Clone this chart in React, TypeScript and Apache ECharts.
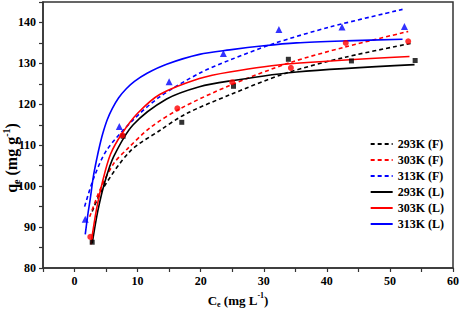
import React, { useEffect, useRef } from 'react';
import * as echarts from 'echarts';

const FONT = '"Liberation Serif", "Times New Roman", serif';

// Experimental points
const pts293 = [[2.8, 86.3], [7.7, 112.2], [17.0, 115.6], [25.2, 124.4], [33.9, 131.0], [43.9, 130.6], [54.0, 130.7]];
const pts303 = [[2.5, 87.6], [7.6, 112.4], [16.3, 119.0], [25.0, 125.4], [34.3, 128.9], [43.0, 135.0], [52.9, 135.4]];
const pts313 = [[1.7, 91.9], [7.1, 114.6], [15.0, 125.5], [23.6, 132.4], [32.4, 138.3], [42.4, 138.9], [52.3, 139.0]];

// Freundlich fit curves
const f293 = [[2.8, 93.8], [4.4, 99.2], [8.8, 108.5], [13.5, 113.6], [17.7, 117.7], [24.6, 122.3], [33.5, 127.6], [42.9, 131.5], [53.7, 135.0]];
const f303 = [[2.4, 92.5], [4.0, 99.0], [6.2, 105.5], [8.3, 109.0], [12.0, 114.3], [16.7, 118.9], [24.6, 124.6], [34.2, 130.2], [42.9, 134.0], [52.9, 137.8]];
const f313 = [[1.6, 95.0], [3.0, 101.8], [5.1, 108.8], [9.3, 116.2], [13.5, 121.8], [19.8, 127.6], [24.6, 130.8], [31.5, 134.8], [40.5, 138.9], [52.0, 143.2]];

// Langmuir fit curves
const l293 = [[2.8, 86.0], [3.7, 94.0], [4.8, 101.0], [6.2, 107.2], [9.3, 115.0], [14.6, 121.3], [19.8, 124.3], [24.6, 125.7], [35.2, 127.9], [53.9, 129.7]];
const l303 = [[2.6, 85.8], [3.5, 94.5], [4.5, 101.5], [5.7, 107.8], [7.5, 112.8], [10.0, 117.8], [13.5, 122.4], [19.8, 126.3], [24.6, 127.9], [34.2, 129.9], [53.1, 131.7]];
const l313 = [[1.7, 88.2], [2.1, 93.0], [2.5, 97.0], [3.0, 102.5], [3.5, 106.5], [4.0, 110.0], [4.5, 113.0], [5.2, 116.3], [6.0, 119.0], [7.0, 121.6], [8.2, 123.8], [9.5, 125.6], [11.5, 127.6], [14.6, 129.8], [19.8, 132.2], [24.6, 133.3], [30.0, 134.3], [35.2, 135.0], [43.0, 135.5], [52.0, 135.9]];

const legendNames = ['293K (F)', '303K (F)', '313K (F)', '293K (L)', '303K (L)', '313K (L)'];
const BLACK = '#000000';
const RED = '#ff0000';
const BLUE = '#0000ff';

export default function App() {
  const ref = useRef<HTMLDivElement>(null);
  useEffect(() => {
    if (!ref.current) return;
    const chart = echarts.init(ref.current, undefined, { renderer: 'svg' });
    const lineS = (name: string, data: number[][], color: string, dashed: boolean) => ({
      name,
      type: 'line',
      data,
      smooth: 0.3,
      symbol: 'none',
      showSymbol: false,
      lineStyle: { color, width: 1.6, type: dashed ? [4, 3] : 'solid' },
      itemStyle: { color },
      z: 2,
    });
    const scat = (data: number[][], color: string, symbol: string, size: number) => ({
      type: 'scatter',
      data,
      symbol,
      symbolSize: size,
      itemStyle: { color },
      z: 5,
    });
    const axisCommon = {
      axisLine: { show: true, onZero: false, lineStyle: { color: '#333', width: 1.5 } },
      axisTick: { show: true, inside: false, length: 4, lineStyle: { color: '#333', width: 1.2 } },
      splitLine: { show: false },
      axisLabel: {
        color: '#000',
        fontFamily: FONT,
        fontWeight: 'bold',
        fontSize: 12,
        margin: 7,
        formatter: (v: number) => (v % 10 === 0 ? String(v) : ''),
      },
    };
    chart.setOption({
      animation: false,
      grid: { left: 43, right: 7, top: 2, bottom: 44, show: true, borderColor: '#333', borderWidth: 1.5, containLabel: false },
      xAxis: { type: 'value', min: -5, max: 60, interval: 5, ...axisCommon },
      yAxis: { type: 'value', min: 80, max: 145, interval: 5, ...axisCommon },
      legend: {
        data: legendNames,
        orient: 'vertical',
        right: 13,
        top: 133,
        itemWidth: 22,
        itemHeight: 10,
        itemGap: 4,
        itemStyle: { opacity: 0 },
        textStyle: { color: '#000', fontFamily: FONT, fontWeight: 'bold', fontSize: 12 },
      },
      series: [
        lineS('293K (F)', f293, BLACK, true),
        lineS('303K (F)', f303, RED, true),
        lineS('313K (F)', f313, BLUE, true),
        lineS('293K (L)', l293, BLACK, false),
        lineS('303K (L)', l303, RED, false),
        lineS('313K (L)', l313, BLUE, false),
        scat(pts293, BLACK, 'rect', 5),
        scat(pts303, RED, 'circle', 6),
        scat(pts313, BLUE, 'triangle', 7),
      ],
      graphic: [
        {
          type: 'text',
          x: 11,
          y: 158,
          rotation: Math.PI / 2,
          style: {
            text: '{a|q}{s|e}{a| (mg g}{p|-1}{a|)}',
            align: 'center',
            verticalAlign: 'middle',
            fill: '#000',
            rich: {
              a: { fontFamily: FONT, fontWeight: 'bold', fontSize: 16, lineHeight: 20, verticalAlign: 'middle', fill: '#000' },
              s: { fontFamily: FONT, fontWeight: 'bold', fontSize: 10, lineHeight: 10, verticalAlign: 'bottom', fill: '#000' },
              p: { fontFamily: FONT, fontWeight: 'bold', fontSize: 10, lineHeight: 10, verticalAlign: 'top', fill: '#000' },
            },
          },
        },
        {
          type: 'text',
          x: 238,
          y: 300,
          style: {
            text: '{a|C}{s|e}{a| (mg L}{p|-1}{a|)}',
            align: 'center',
            verticalAlign: 'middle',
            fill: '#000',
            rich: {
              a: { fontFamily: FONT, fontWeight: 'bold', fontSize: 13, lineHeight: 17, verticalAlign: 'middle', fill: '#000' },
              s: { fontFamily: FONT, fontWeight: 'bold', fontSize: 8, lineHeight: 8, verticalAlign: 'bottom', fill: '#000' },
              p: { fontFamily: FONT, fontWeight: 'bold', fontSize: 8, lineHeight: 8, verticalAlign: 'top', fill: '#000' },
            },
          },
        },
      ],
    });
    return () => chart.dispose();
  }, []);
  return <div ref={ref} style={{ position: 'fixed', left: 0, top: 0, width: 462, height: 312, background: '#fff' }} />;
}
